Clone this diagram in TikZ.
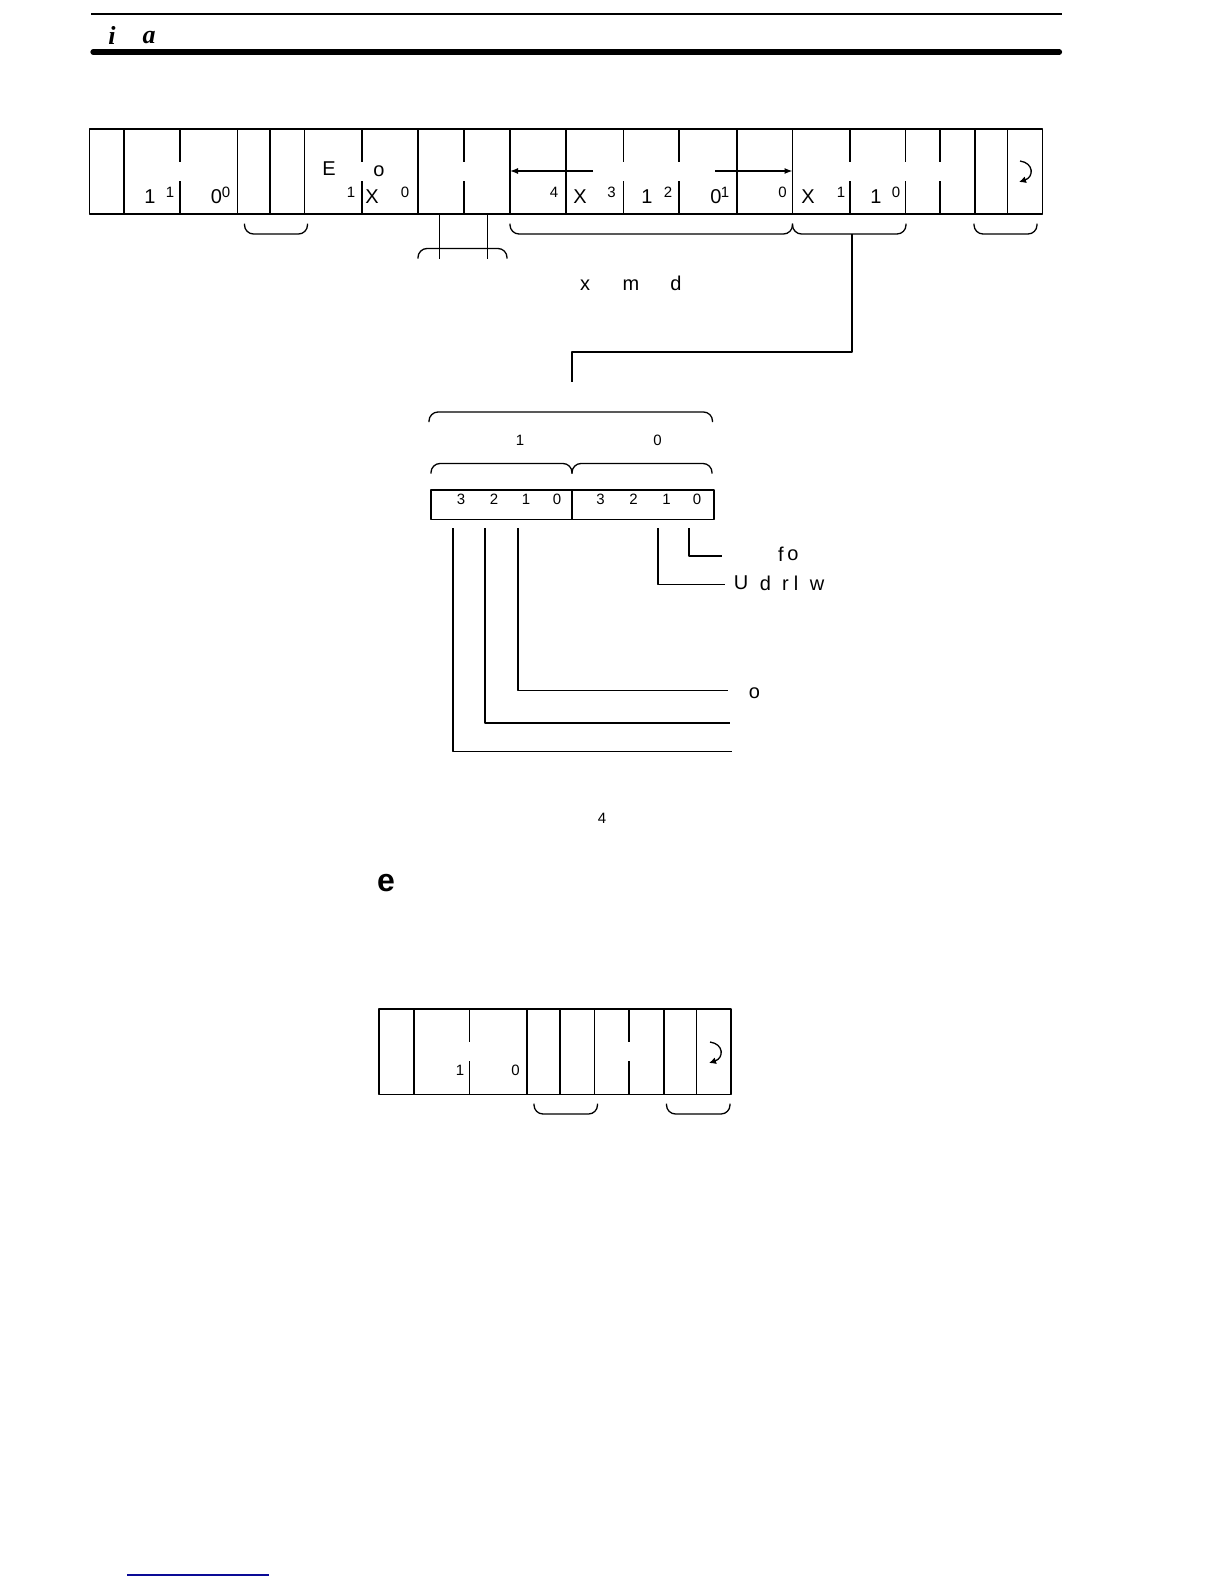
\documentclass[tikz,border=0pt]{standalone}
\usepackage{fontspec}
\setmainfont{Liberation Sans}
\newfontfamily\headfont{Liberation Serif}
\usetikzlibrary{arrows.meta}

\tikzset{
  frameline/.style={line width=0.85pt},
  thinline/.style={line width=0.65pt},
  biglabel/.style={inner sep=0pt,font=\fontsize{10}{12}\selectfont},
  smalllabel/.style={inner sep=0pt,font=\fontsize{7.5}{9}\selectfont}
}

\begin{document}
\begin{tikzpicture}[x=0.5pt,y=-0.5pt,>={Latex[length=4pt,width=3pt]},line cap=butt,line join=round]
  \useasboundingbox (0,0) rectangle (1224,1584);

  % page head
  \draw[line width=1pt] (91,14) -- (1062,14);
  \draw[line width=2.6pt,line cap=round] (93,52) -- (1059.5,52);
  \node[inner sep=0pt,font=\headfont\bfseries\itshape\fontsize{13}{15}\selectfont] (headi) at (112,35) {i};
  \node[inner sep=0pt,font=\headfont\bfseries\itshape\fontsize{13}{15}\selectfont] (heada) at (149,37.5) {a};

  % long format
  \draw[frameline] (89.5,129) rectangle (1042.5,214);
  \foreach \x in {124,237.5,270,304.5,418,510,566,737,792.5,975,1007.5} {
    \draw[frameline] (\x,129) -- (\x,214);
  }
  \foreach \x in {180,362,464,623.5,679,850,905.5,940} {
    \draw[frameline] (\x,129) -- (\x,161.5);
    \draw[frameline] (\x,181) -- (\x,214);
  }
  \coordinate (bytesl) at (510,171);
  \coordinate (bytesr) at (792.5,171);
  \coordinate (bytesla) at (593,171);
  \coordinate (bytesra) at (715,171);
  \draw[->,thinline] (bytesla) -- (bytesl);
  \draw[->,thinline] (bytesra) -- (bytesr);

  \foreach \n/\x/\y/\t in {a/150/197/1,b/216.5/197/0,c/329/169/E,d/379/171/o,e/372/197/X,f/580/196.5/X,g/647/197/1,h/716/197/0,i/808/196.5/X,j/876/197/1,k/585/285/x,l/631/285/m,m/676/283/d,n/781/554/f,o/793/555.5/o,p/741/583/U,q/765.5/583/d,r/785.5/585/r,s/796/583/l,t/817/585/w,u/754.5/693.5/o} {
    \node[biglabel] (big\n) at (\x,\y) {\t};
  }
  \foreach \n/\x/\y/\t in {a/170/192/1,b/226/192/0,c/351/192/1,d/405/192/0,e/554/192/4,f/611.5/192/3,g/668/192/2,h/725/192/1,i/782.5/192/0,j/841/192/1,k/896/192/0,l/520/440/1,m/657.5/440/0,n/461/499/3,o/494/499/2,p/526/499/1,q/557/499/0,r/600.5/499/3,s/633.5/499/2,t/666.5/499/1,u/697/499/0,v/602/818.5/4,w/460/1070.5/1,x/515.5/1070.5/0} {
    \node[smalllabel] (small\n) at (\x,\y) {\t};
  }

  % brackets below the frames
  \foreach \a/\b/\u/\v in {244.5/307.5/223.5/234,510/792.5/223.5/234,792.5/906/223.5/234,974/1037/223.5/234,534/597.5/1103.5/1114,666.5/730/1103.5/1114} {
    \draw[thinline,rounded corners=4.5pt] (\a,\u) -- (\a,\v) -- (\b,\v) -- (\b,\u);
  }
  % brackets above
  \foreach \a/\b/\u/\v in {418/507/258.5/248.5,429/712.5/422/412,431/572/473.5/463.5,572/712/473.5/463.5} {
    \draw[thinline,rounded corners=4.5pt] (\a,\u) -- (\a,\v) -- (\b,\v) -- (\b,\u);
  }
  \foreach \x in {439.5,487.5} {
    \draw[thinline] (\x,214) -- (\x,258.5);
  }
  \draw[thinline] (852,234) -- (852,352) -- (572,352) -- (572,382);

  % bit frame
  \draw[frameline] (431,490) rectangle (714,519.5);
  \draw[thinline] (572,490) -- (572,519.5);

  \draw[thinline] (689,528) -- (689,556) -- (722,556);
  \draw[thinline] (658,528) -- (658,584.5) -- (725,584.5);
  \draw[thinline] (518,528) -- (518,690.5) -- (728,690.5);
  \draw[thinline] (485,528) -- (485,723) -- (729.5,723);
  \draw[thinline] (453,528) -- (453,751.5) -- (732,751.5);

  % short format
  \node[inner sep=0pt,font=\bfseries\fontsize{16}{18}\selectfont] (shorthead) at (386,883.5) {e};
  \draw[frameline] (379,1009) rectangle (731,1094.5);
  \foreach \x in {414,527,560,594.5,664,696.5} {
    \draw[frameline] (\x,1009) -- (\x,1094.5);
  }
  \foreach \x in {469.5,629} {
    \draw[frameline] (\x,1009) -- (\x,1042);
    \draw[frameline] (\x,1061) -- (\x,1094.5);
  }

  % return marks
  \foreach \cx/\cy in {1024/171,714/1052} {
    \draw[thinline,-{Latex[length=3.5pt,width=3.5pt]}] ({\cx-4},{\cy-10}) .. controls ({\cx+10},{\cy-8}) and ({\cx+10},{\cy+6}) .. ({\cx-5},{\cy+11});
  }

  % footnote rule
  \draw[line width=0.6pt,color={rgb,255:red,10;green,10;blue,150}] (127,1575) -- (269,1575);
\end{tikzpicture}
\end{document}
